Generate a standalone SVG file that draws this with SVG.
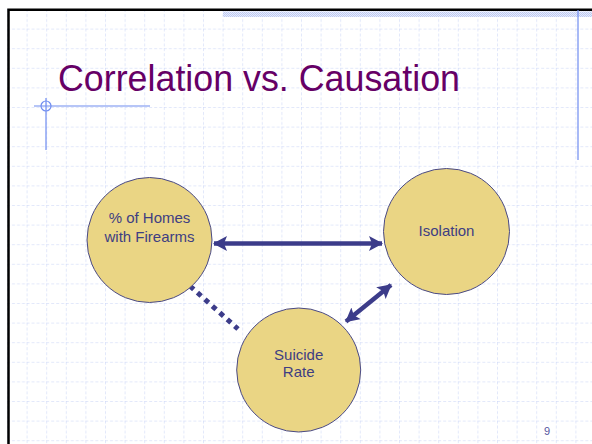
<svg xmlns="http://www.w3.org/2000/svg" width="592" height="444" viewBox="0 0 592 444">
<style>
.node circle{fill:#EAD584;stroke:#4A4A86;stroke-width:1}
.lbl{font-family:"Liberation Sans",Arial,sans-serif;font-size:15px;fill:#3E3E82;text-anchor:middle}
.conn{stroke:#3C3C8A;fill:none}
.guide{stroke:#6F8CF0;stroke-width:1.2;fill:none}
</style>
<defs>
<pattern id="grid" patternUnits="userSpaceOnUse" x="7" y="9" width="19.6" height="19.6">
<line x1="0" y1="0" x2="0" y2="19.6" stroke="#C6D1F6" stroke-width="1" stroke-dasharray="3 2"/>
<line x1="0" y1="0" x2="19.6" y2="0" stroke="#C6D1F6" stroke-width="1" stroke-dasharray="3 2"/>
</pattern>
<pattern id="dither" patternUnits="userSpaceOnUse" width="2" height="2">
<rect width="2" height="2" fill="#E6EBFB"/>
<rect width="1" height="1" fill="#BFCBF3"/>
<rect x="1" y="1" width="1" height="1" fill="#BFCBF3"/>
</pattern>
<marker id="head" markerUnits="userSpaceOnUse" markerWidth="14" markerHeight="15" refX="13" refY="7.5" orient="auto-start-reverse">
<path d="M0,0 L14,7.5 L0,15 L3,7.5 z" fill="#3C3C8A"/>
</marker>
</defs>
<rect width="592" height="444" fill="#FFFFFF"/>
<rect x="7" y="9" width="585" height="435" fill="url(#grid)"/>
<rect x="223" y="11.5" width="369" height="5.5" fill="url(#dither)"/>
<path d="M8.5,444 V9.8 H592" stroke="#000" stroke-width="2.5" fill="none"/>
<line class="guide" x1="578" y1="10" x2="578" y2="160"/>
<line class="guide" x1="34" y1="106" x2="150" y2="106"/>
<line class="guide" x1="46" y1="98" x2="46" y2="150"/>
<circle class="guide" cx="46" cy="106" r="5" stroke-width="1"/>
<text x="58" y="90.5" font-family="'Liberation Sans',Arial,sans-serif" font-size="36" fill="#660066" textLength="402" lengthAdjust="spacingAndGlyphs">Correlation vs. Causation</text>
<g id="connectors">
<line class="conn" x1="190" y1="286" x2="238" y2="329" stroke-width="5" stroke-dasharray="5 5"/>
<line class="conn" x1="214" y1="243.5" x2="382" y2="243.5" stroke-width="4.5" marker-start="url(#head)" marker-end="url(#head)"/>
<line class="conn" x1="346" y1="321.5" x2="391" y2="285" stroke-width="4.5" marker-start="url(#head)" marker-end="url(#head)"/>
</g>
<g id="homes" class="node">
<circle cx="149.5" cy="240" r="62.5"/>
<text class="lbl" x="149.5" y="223">% of Homes</text>
<text class="lbl" x="149.5" y="242">with Firearms</text>
</g>
<g id="isolation" class="node">
<circle cx="446.5" cy="231.5" r="63"/>
<text class="lbl" x="446.5" y="236">Isolation</text>
</g>
<g id="suicide" class="node">
<circle cx="298.7" cy="370" r="62"/>
<text class="lbl" x="298.7" y="360">Suicide</text>
<text class="lbl" x="298.7" y="377">Rate</text>
</g>
<text x="544" y="435" font-family="'Liberation Sans',Arial,sans-serif" font-size="11" fill="#5656A0">9</text>
</svg>
